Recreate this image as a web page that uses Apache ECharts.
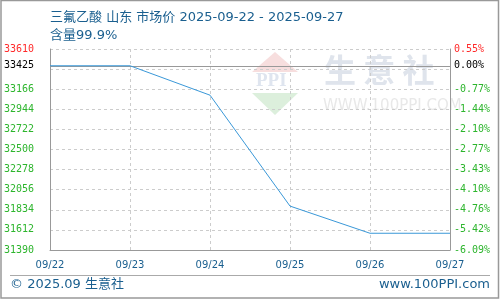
<!DOCTYPE html>
<html><head><meta charset="utf-8">
<script src="https://cdn.jsdelivr.net/npm/echarts@6/dist/echarts.min.js"></script>
<style>html,body{margin:0;padding:0;background:#fff}#c{width:500px;height:300px}</style>
</head><body><div id="c"></div>
<script>
var categories = ['09/22','09/23','09/24','09/25','09/26','09/27'];
var prices = [33425, 33425, 33100, 31875, 31575, 31575];
var baseValue = 33425;
var yMin = 31390, yMax = 33610, yInterval = 222;
var leftTickLabels = [31390, 31612, 31834, 32056, 32278, 32500, 32722, 32944, 33166, 33425, 33610];
var titleText = '三氟乙酸 山东 市场价 2025-09-22 - 2025-09-27';
var subTitleText = '含量99.9%';
var footerLeft = '© 2025.09 生意社';
var footerRight = 'www.100PPI.com';

var blueText = '#1a5f8f';
var mixFont = '"DejaVu Sans", "Noto Sans CJK SC", sans-serif';
function labelColor(v){
  v = Number(v);
  if (Math.abs(v - baseValue) < 0.5) return '#000';
  return v > baseValue ? '#ff2a2a' : '#2db52d';
}
var chart = echarts.init(document.getElementById('c'), null, {renderer:'canvas'});
var monoFont = 'DejaVu Sans Mono';
chart.setOption({
  animation: false,
  backgroundColor: '#fff',
  title: {
    text: titleText, subtext: subTitleText, left: 45, top: 6, itemGap: 5,
    textStyle: {fontSize: 13, fontWeight: 'normal', color: blueText, fontFamily: mixFont},
    subtextStyle: {fontSize: 13, color: blueText, fontFamily: mixFont}
  },
  grid: {left: 50, right: 50, top: 49, bottom: 50, containLabel: false},
  xAxis: {
    type: 'category', data: categories, boundaryGap: false,
    axisLine: {show: true, lineStyle: {color: '#999', width: 1}},
    axisTick: {show: false},
    axisLabel: {color: blueText, fontSize: 10, fontFamily: 'DejaVu Sans', margin: 10, interval: 0},
    splitLine: {show: true, lineStyle: {color: '#ccc', type: [3, 3]}}
  },
  yAxis: [{
    type: 'value', min: yMin, max: yMax, interval: yInterval, position: 'left',
    axisLine: {show: true, lineStyle: {color: '#999', width: 1}},
    axisTick: {show: false},
    splitLine: {show: true, lineStyle: {color: '#ccc', type: [3, 3]}},
    axisLabel: {customValues: leftTickLabels, margin: 16, fontSize: 10, fontFamily: monoFont,
      color: function(v){ return labelColor(v); },
      formatter: function(v){ return String(Math.round(v)); }}
  }, {
    type: 'value', min: yMin, max: yMax, interval: yInterval, position: 'right',
    axisLine: {show: true, lineStyle: {color: '#999', width: 1}},
    axisTick: {show: false},
    splitLine: {show: false},
    axisLabel: {customValues: leftTickLabels, margin: 4, fontSize: 10, fontFamily: monoFont,
      color: function(v){ return labelColor(v); },
      formatter: function(v){ return ((v - baseValue) / baseValue * 100).toFixed(2) + '%'; }}
  }],
  series: [{
    type: 'line', data: prices, yAxisIndex: 0, symbol: 'none',
    lineStyle: {color: '#3a98d8', width: 1},
    markLine: {silent: true, symbol: 'none', label: {show: false},
      lineStyle: {color: '#999', type: 'solid', width: 1},
      data: [{yAxis: baseValue}], z: 1}
  }],
  graphic: [
    // watermark logo
    {type: 'polygon', z: 0, shape: {points: [[275,52],[298,72],[252,72]]}, style: {fill: '#f7dede'}},
    {type: 'text', z: 0, left: 256, top: 72, style: {text: 'PPI', fontSize: 19, fontWeight: 'bold', fontFamily: 'Liberation Serif', fill: '#dfe5ef'}},
    {type: 'polygon', z: 0, shape: {points: [[252,93],[298,93],[275,115]]}, style: {fill: '#dcefdc'}},
    {type: 'text', z: 0, left: 324, top: 54, style: {text: '生 意 社', fontSize: 32, fontWeight: 'bold', fontFamily: 'Noto Sans CJK SC', fill: '#dfe4ec'}},
    {type: 'text', z: 0, left: 323, top: 99, style: {text: 'WWW.100PPI.COM', fontSize: 15, fontFamily: 'DejaVu Sans', fill: '#e8e8e8'}},
    // footer
    {type: 'line', shape: {x1: 10, y1: 275.5, x2: 490, y2: 275.5}, style: {stroke: '#aaa', lineWidth: 1}},
    {type: 'text', left: 10, top: 278, style: {text: footerLeft, fontSize: 13, fontFamily: mixFont, fill: blueText}},
    {type: 'text', right: 10, top: 278, style: {text: footerRight, fontSize: 13, fontFamily: 'DejaVu Sans', fill: blueText}},
    // border
    {type: 'rect', shape: {x: 1, y: 0.5, width: 497.5, height: 297.5}, style: {fill: 'none', stroke: '#999', lineWidth: 1.5}}
  ]
});
</script></body></html>
